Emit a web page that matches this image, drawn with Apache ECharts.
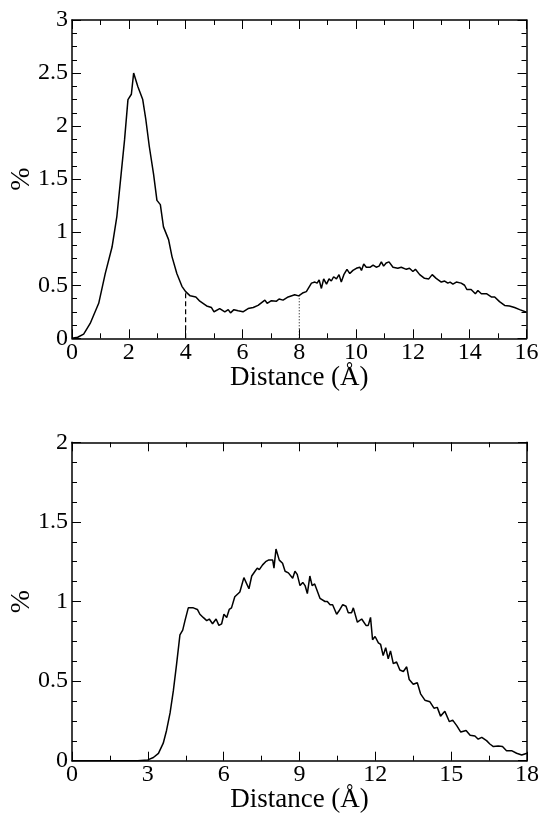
<!DOCTYPE html>
<html>
<head>
<meta charset="utf-8">
<script src="https://cdn.jsdelivr.net/npm/echarts@6/dist/echarts.min.js"></script>
<style>
html,body{margin:0;padding:0;background:#fff;}
#chart{width:545px;height:824px;}
</style>
</head>
<body>
<div id="chart"></div>
<script>
// Top panel: distance distribution
var topX = [0,0.2,0.41,0.64,0.94,1.17,1.41,1.58,1.73,1.85,1.97,2.09,2.17,2.32,2.49,2.60,2.72,2.87,2.99,3.11,3.22,3.40,3.52,3.69,3.87,4.0,4.16,4.36,4.50,4.74,4.91,5.00,5.20,5.38,5.50,5.58,5.70,5.85,6.02,6.20,6.38,6.55,6.79,6.87,7.02,7.20,7.29,7.43,7.61,7.84,7.98,8.14,8.25,8.43,8.55,8.63,8.70,8.78,8.86,8.96,9.05,9.13,9.21,9.31,9.40,9.48,9.57,9.68,9.78,9.89,10.01,10.13,10.19,10.27,10.36,10.50,10.60,10.71,10.81,10.89,10.97,11.06,11.16,11.30,11.47,11.59,11.77,11.88,12.00,12.09,12.24,12.41,12.56,12.68,12.82,13.00,13.12,13.23,13.31,13.41,13.53,13.70,13.82,13.90,14.05,14.20,14.29,14.41,14.59,14.76,14.88,15.05,15.23,15.40,15.58,15.76,16.0];
var topY = [0.0,0.01,0.04,0.14,0.33,0.61,0.86,1.15,1.55,1.87,2.25,2.30,2.50,2.37,2.25,2.06,1.81,1.55,1.30,1.26,1.05,0.93,0.77,0.61,0.49,0.44,0.40,0.39,0.35,0.305,0.29,0.25,0.28,0.25,0.27,0.24,0.27,0.26,0.25,0.28,0.29,0.31,0.36,0.33,0.355,0.35,0.37,0.36,0.39,0.41,0.40,0.43,0.44,0.52,0.53,0.52,0.55,0.47,0.56,0.51,0.56,0.54,0.58,0.56,0.60,0.53,0.60,0.65,0.61,0.64,0.66,0.67,0.64,0.70,0.67,0.67,0.69,0.67,0.68,0.72,0.68,0.71,0.72,0.67,0.66,0.67,0.65,0.66,0.63,0.65,0.60,0.565,0.56,0.60,0.565,0.53,0.54,0.52,0.53,0.51,0.53,0.52,0.50,0.46,0.46,0.42,0.45,0.42,0.42,0.39,0.39,0.346,0.31,0.305,0.29,0.27,0.245];
var dashX = [4, 4];
var dashY = [0, 0.45];
var dotX = [8, 8];
var dotY = [0, 0.41];

// Bottom panel
var botX = [0,1,2,2.6,3.0,3.22,3.42,3.61,3.74,3.88,4.01,4.14,4.27,4.38,4.47,4.60,4.80,4.96,5.06,5.19,5.33,5.43,5.56,5.70,5.81,5.92,6.01,6.12,6.22,6.31,6.44,6.64,6.80,7.00,7.11,7.24,7.33,7.41,7.54,7.66,7.77,7.83,7.94,7.99,8.07,8.20,8.33,8.43,8.56,8.73,8.82,8.91,9.02,9.13,9.22,9.31,9.41,9.50,9.60,9.81,10.01,10.10,10.21,10.31,10.47,10.56,10.71,10.84,10.93,11.06,11.13,11.29,11.46,11.63,11.72,11.81,11.89,11.99,12.12,12.21,12.31,12.41,12.51,12.60,12.71,12.84,12.97,13.11,13.24,13.34,13.50,13.66,13.79,13.96,14.16,14.32,14.45,14.58,14.75,14.93,15.06,15.22,15.38,15.59,15.75,15.94,16.07,16.21,16.40,16.53,16.67,16.86,17.03,17.19,17.39,17.59,17.79,18.0];
var botY = [0,0,0,0,0.005,0.02,0.046,0.11,0.19,0.30,0.44,0.61,0.79,0.82,0.88,0.96,0.96,0.95,0.92,0.90,0.88,0.89,0.86,0.89,0.85,0.86,0.92,0.90,0.95,0.96,1.03,1.06,1.15,1.08,1.16,1.19,1.21,1.20,1.23,1.25,1.26,1.25,1.26,1.21,1.33,1.26,1.24,1.19,1.18,1.146,1.19,1.17,1.10,1.12,1.10,1.05,1.16,1.10,1.11,1.02,1.00,1.00,0.98,0.98,0.92,0.94,0.98,0.97,0.93,0.93,0.96,0.87,0.89,0.85,0.85,0.90,0.76,0.78,0.74,0.73,0.66,0.71,0.64,0.69,0.61,0.62,0.57,0.56,0.59,0.51,0.48,0.49,0.42,0.38,0.37,0.33,0.335,0.28,0.31,0.245,0.255,0.22,0.18,0.19,0.16,0.155,0.135,0.147,0.126,0.105,0.089,0.093,0.089,0.063,0.063,0.047,0.036,0.047];

var topXTicks = {min: 0, max: 16, interval: 2};
var topYTicks = {min: 0, max: 3, interval: 0.5};
var botXTicks = {min: 0, max: 18, interval: 3};
var botYTicks = {min: 0, max: 2, interval: 0.5};

function zip(xs, ys) { return xs.map(function (x, i) { return [x, ys[i]]; }); }

var FONT = "'Liberation Serif', 'Times New Roman', serif";
var black = '#000';

function xAxisDef(grid, t, pos, showLabel, name) {
  return {
    type: 'value', gridIndex: grid, position: pos,
    min: t.min, max: t.max, interval: t.interval,
    axisLine: {show: true, onZero: false, lineStyle: {color: black, width: 1.5}},
    axisTick: {show: true, inside: true, length: 9, lineStyle: {color: black, width: 1}},
    minorTick: {show: true, splitNumber: 2, length: 5, lineStyle: {color: black, width: 1}},
    axisLabel: {show: showLabel, color: black, fontFamily: FONT, fontSize: 24, margin: 2},
    splitLine: {show: false},
    name: name || '', nameLocation: 'middle', nameGap: 26, nameMoveOverlap: false,
    nameTextStyle: {color: black, fontFamily: FONT, fontSize: 27}
  };
}
function yAxisDef(grid, t, pos, showLabel, name) {
  return {
    type: 'value', gridIndex: grid, position: pos,
    min: t.min, max: t.max, interval: t.interval,
    axisLine: {show: true, onZero: false, lineStyle: {color: black, width: 1.5}},
    axisTick: {show: true, inside: true, length: 9, lineStyle: {color: black, width: 1}},
    minorTick: {show: true, splitNumber: 4, length: 5, lineStyle: {color: black, width: 1}},
    axisLabel: {show: showLabel, color: black, fontFamily: FONT, fontSize: 24, margin: 4},
    splitLine: {show: false},
    name: name || '', nameLocation: 'middle', nameGap: 36, nameRotate: 90, nameMoveOverlap: false,
    nameTextStyle: {color: black, fontFamily: FONT, fontSize: 28}
  };
}

var chart = echarts.init(document.getElementById('chart'), null, {renderer: 'canvas'});
chart.setOption({
  animation: false,
  backgroundColor: '#fff',
  grid: [
    {left: 72, top: 20, width: 454.5, height: 318.3, containLabel: false, outerBoundsMode: 'none'},
    {left: 72, top: 442.3, width: 455, height: 318.4, containLabel: false, outerBoundsMode: 'none'}
  ],
  xAxis: [
    xAxisDef(0, topXTicks, 'bottom', true, 'Distance (Å)'),
    xAxisDef(0, topXTicks, 'top', false),
    xAxisDef(1, botXTicks, 'bottom', true, 'Distance (Å)'),
    xAxisDef(1, botXTicks, 'top', false)
  ],
  yAxis: [
    yAxisDef(0, topYTicks, 'left', true, '%'),
    yAxisDef(0, topYTicks, 'right', false),
    yAxisDef(1, botYTicks, 'left', true, '%'),
    yAxisDef(1, botYTicks, 'right', false)
  ],
  series: [
    {type: 'line', xAxisIndex: 0, yAxisIndex: 0, data: zip(topX, topY), showSymbol: false,
     lineStyle: {color: black, width: 1.5}, z: 3},
    {type: 'line', xAxisIndex: 0, yAxisIndex: 0, data: zip(dashX, dashY), showSymbol: false,
     lineStyle: {color: black, width: 1.2, type: [5, 3]}},
    {type: 'line', xAxisIndex: 0, yAxisIndex: 0, data: zip(dotX, dotY), showSymbol: false,
     lineStyle: {color: black, width: 1, type: [1, 2]}},
    {type: 'line', xAxisIndex: 2, yAxisIndex: 2, data: zip(botX, botY), showSymbol: false,
     lineStyle: {color: black, width: 1.5}, z: 3}
  ]
});
</script>
</body>
</html>
